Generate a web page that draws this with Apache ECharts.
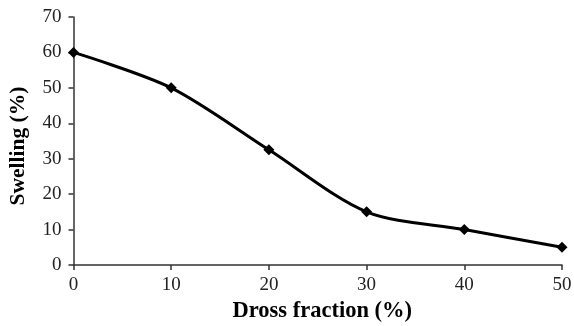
<!DOCTYPE html>
<html>
<head>
<meta charset="utf-8">
<script src="https://cdn.jsdelivr.net/npm/echarts@6/dist/echarts.min.js"></script>
<style>html,body{margin:0;padding:0;background:#fff}#c{width:574px;height:326px}</style>
</head>
<body>
<div id="c"></div>
<script>
var drossFraction = [0, 10, 20, 30, 40, 50];
var swelling = [60, 50, 32.5, 15, 10, 5];
var xTitle = 'Dross fraction (%)';
var yTitle = 'Swelling (%)';

var chart = echarts.init(document.getElementById('c'));
var font = '"Liberation Serif", "Times New Roman", serif';
chart.setOption({
  animation: false,
  grid: {left: 73.5, right: 12, top: 17, bottom: 61, containLabel: false, outerBoundsMode: 'none'},
  xAxis: {
    type: 'value', min: 0, max: 50, interval: 10,
    name: xTitle, nameLocation: 'middle', nameGap: 33,
    nameTextStyle: {fontFamily: font, fontWeight: 'bold', fontSize: 22.5, color: '#000', padding: [0, 0, 0, 9]},
    axisLine: {lineStyle: {color: '#333', width: 1.5}},
    axisTick: {show: true, length: 5, lineStyle: {color: '#333', width: 1.5}},
    axisLabel: {fontFamily: font, fontSize: 19, color: '#222', margin: 11},
    splitLine: {show: false}
  },
  yAxis: {
    type: 'value', min: 0, max: 70, interval: 10,
    name: yTitle, nameLocation: 'middle', nameGap: 44,
    nameTextStyle: {fontFamily: font, fontWeight: 'bold', fontSize: 21.5, color: '#000', padding: [0, 10, 0, 0]},
    axisLine: {show: true, lineStyle: {color: '#333', width: 1.5}},
    axisTick: {show: true, length: 5, lineStyle: {color: '#333', width: 1.5}},
    axisLabel: {fontFamily: font, fontSize: 19, color: '#222', margin: 12},
    splitLine: {show: false}
  },
  series: [{
    type: 'line',
    data: drossFraction.map(function (x, i) { return [x, swelling[i]]; }),
    smooth: 0.3,
    symbol: 'diamond',
    symbolSize: 11,
    lineStyle: {color: '#000', width: 3},
    itemStyle: {color: '#000'}
  }]
});
</script>
</body>
</html>
